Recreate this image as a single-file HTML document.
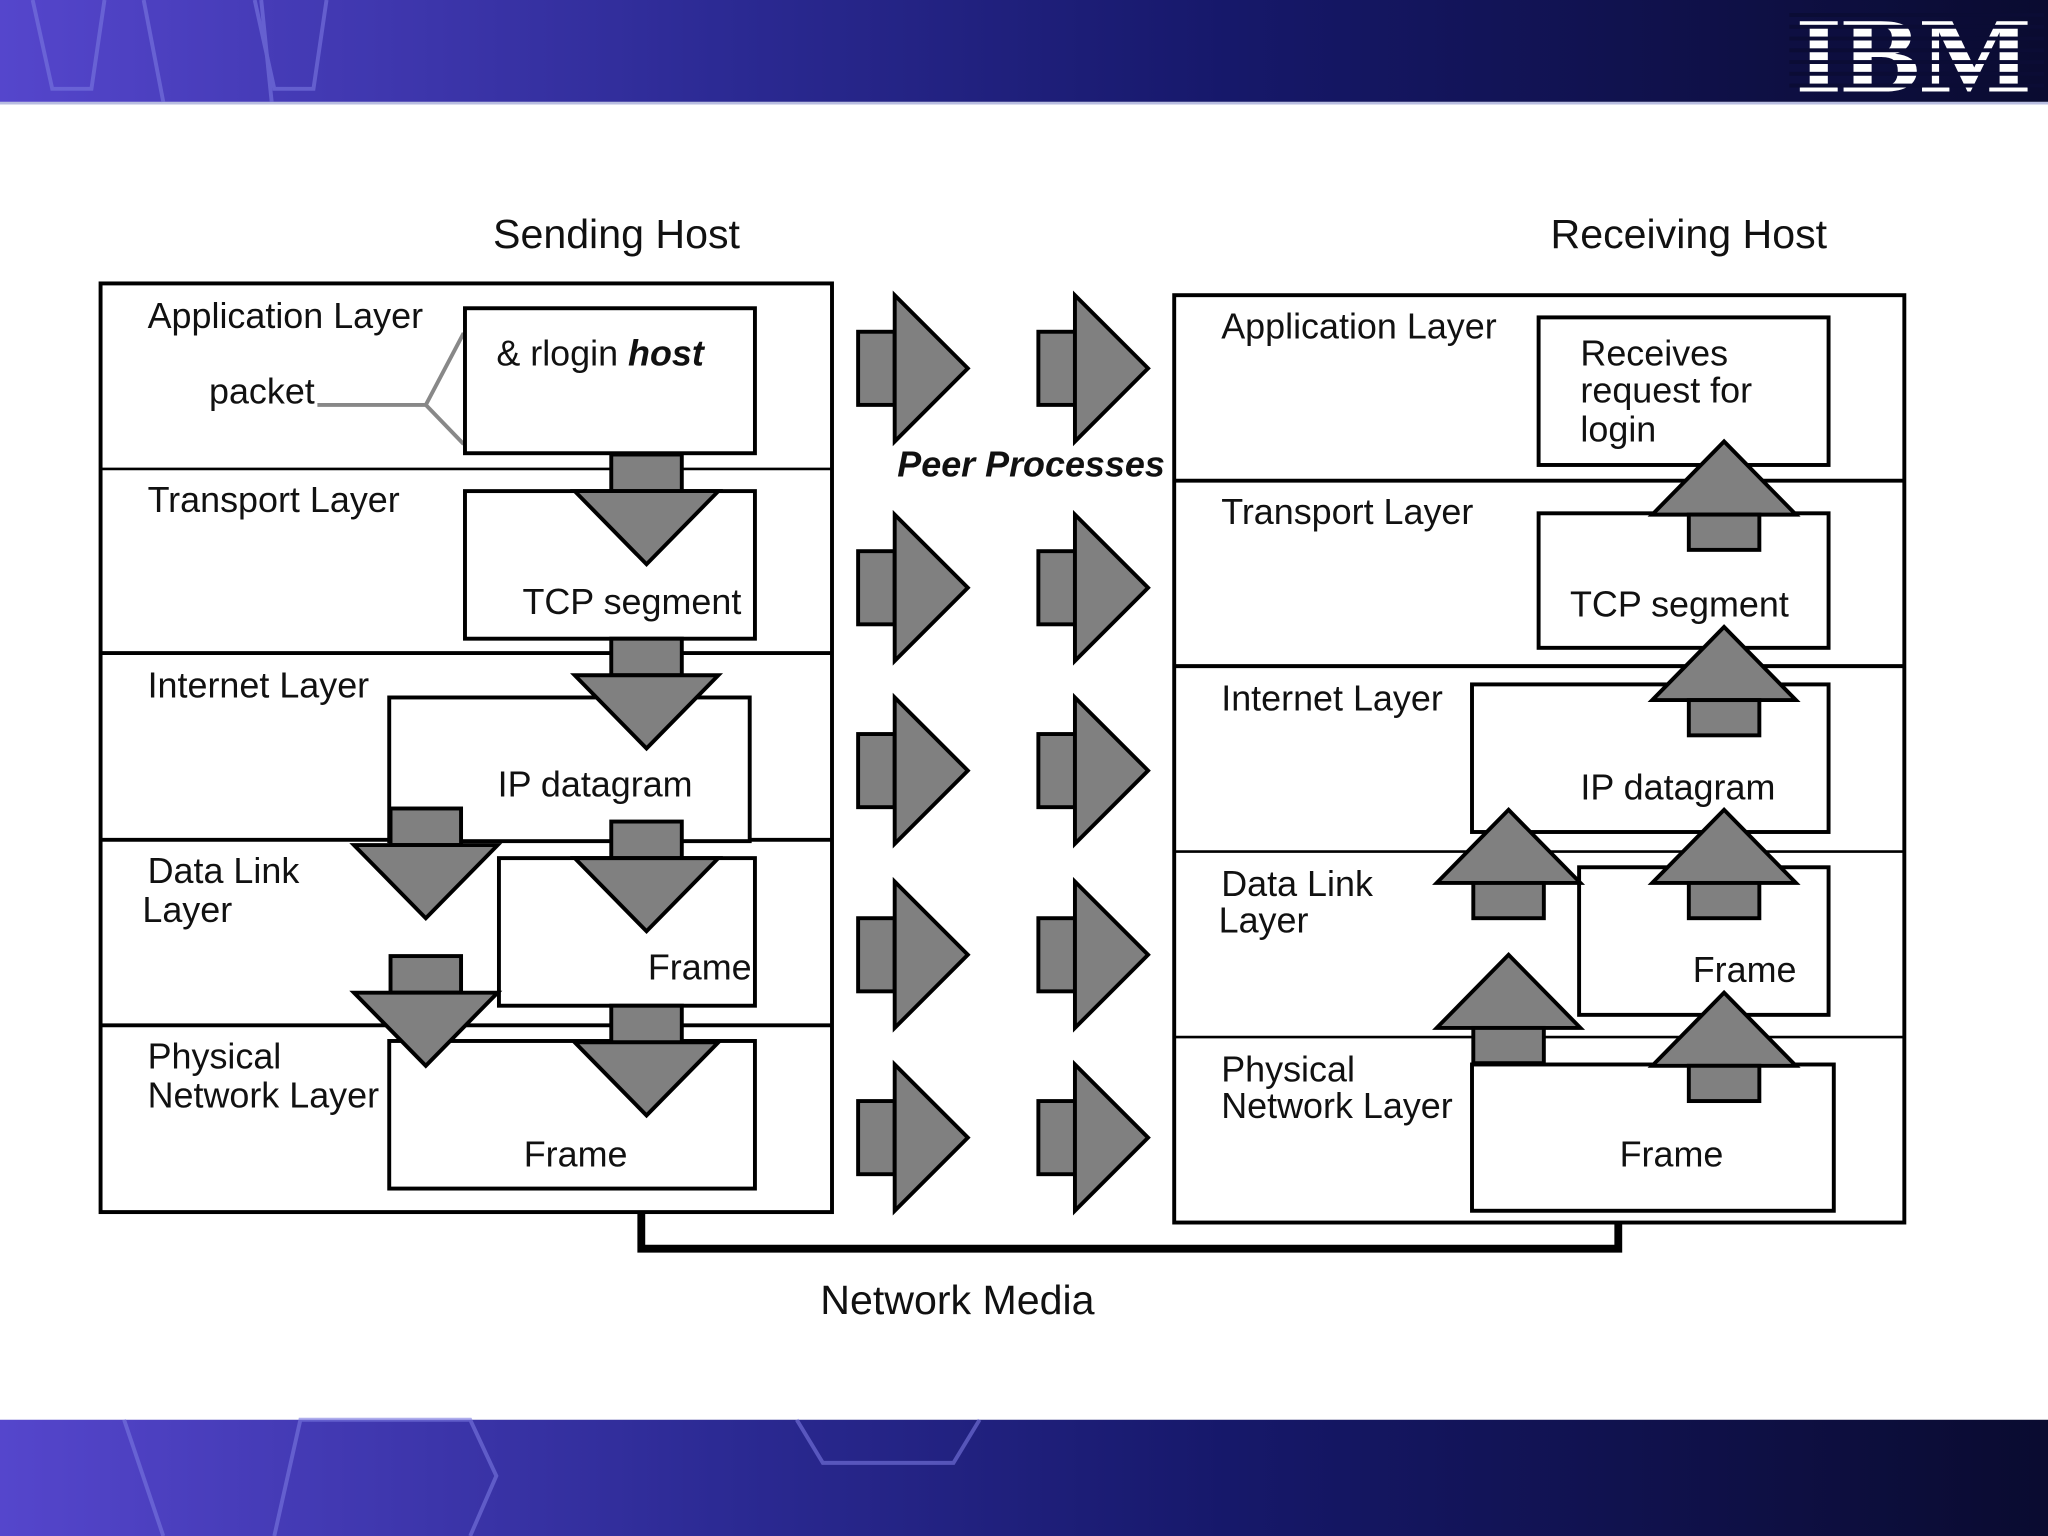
<!DOCTYPE html>
<html><head><meta charset="utf-8"><style>
html,body{margin:0;padding:0;background:#fff}
svg{display:block}
text{font-family:"Liberation Sans",Arial,sans-serif;fill:#111}
</style></head><body>
<svg width="2048" height="1536" viewBox="0 0 1568 1176" xmlns="http://www.w3.org/2000/svg">
<defs>
<linearGradient id="g" x1="0" x2="1" y1="0" y2="0">
<stop offset="0" stop-color="#5546cc"/><stop offset="0.35" stop-color="#2c2a94"/><stop offset="0.6" stop-color="#16186a"/><stop offset="1" stop-color="#0a0b30"/>
</linearGradient>
<g id="ra"><rect x="0" y="-28" width="28" height="56" fill="#808080" stroke="#000" stroke-width="3"/><polygon points="28,-56 28,56 84,0" fill="#808080" stroke="#000" stroke-width="3"/></g>
<g id="da"><rect x="-27" y="0" width="54" height="28" fill="#808080" stroke="#000" stroke-width="3"/><polygon points="-55,28 55,28 0,84" fill="#808080" stroke="#000" stroke-width="3"/></g>
<g id="ua"><polygon points="-55,56 55,56 0,0" fill="#808080" stroke="#000" stroke-width="3"/><rect x="-27" y="56" width="54" height="27" fill="#808080" stroke="#000" stroke-width="3"/></g>
</defs>
<rect x="0" y="0" width="1568" height="78" fill="url(#g)"/>
<rect x="0" y="78" width="1568" height="2" fill="#b8bde0"/>
<g stroke="#7a78e0" stroke-width="3" fill="none" opacity="0.6">
<polyline points="25,0 40,68 70,68 80,0"/><polyline points="110,0 125,78"/><polyline points="200,0 208,78"/><polyline points="195,0 210,68 240,68 250,0"/>
</g>
<rect x="0" y="1087" width="1568" height="89" fill="url(#g)"/>
<g stroke="#7a78e0" stroke-width="3" fill="none" opacity="0.6">
<polyline points="95,1087 125,1176"/><polyline points="210,1176 230,1087 360,1087 380,1130 360,1176"/><polyline points="610,1087 630,1120 730,1120 750,1087"/>
</g>
<text x="1375" y="70" style="font-family:'Liberation Serif',serif;font-weight:bold;font-size:82px;fill:#fff" textLength="180" lengthAdjust="spacingAndGlyphs">IBM</text>
<g><rect x="1370" y="10" width="195" height="3" fill="#0b0c35"/><rect x="1370" y="19" width="195" height="3" fill="#0b0c35"/><rect x="1370" y="28" width="195" height="3" fill="#0b0c35"/><rect x="1370" y="37" width="195" height="3" fill="#0b0c35"/><rect x="1370" y="46" width="195" height="3" fill="#0b0c35"/><rect x="1370" y="55" width="195" height="3" fill="#0b0c35"/><rect x="1370" y="64" width="195" height="3" fill="#0b0c35"/></g>

<text x="472" y="190" font-size="31.5" text-anchor="middle">Sending Host</text>
<text x="1293" y="190" font-size="31.5" text-anchor="middle">Receiving Host</text>

<polyline points="491,928 491,956 1239,956 1239,936" fill="none" stroke="#000" stroke-width="6"/>
<text x="733" y="1006" font-size="31.5" text-anchor="middle">Network Media</text>

<rect x="77" y="217" width="560" height="711" fill="#fff" stroke="#000" stroke-width="3"/>
<g stroke="#000"><line x1="77" y1="359" x2="637" y2="359" stroke-width="2"/><line x1="77" y1="500" x2="637" y2="500" stroke-width="3"/><line x1="77" y1="643" x2="637" y2="643" stroke-width="3"/><line x1="77" y1="785" x2="637" y2="785" stroke-width="3"/></g>
<g font-size="27.5">
<text x="113" y="251">Application Layer</text>
<text x="160" y="309">packet</text>
<text x="113" y="392">Transport Layer</text>
<text x="113" y="534">Internet Layer</text>
<text x="113" y="676">Data Link</text><text x="109" y="706">Layer</text>
<text x="113" y="818">Physical</text><text x="113" y="848">Network Layer</text>
</g>
<polyline points="243,310 326,310 355,255" fill="none" stroke="#888" stroke-width="3"/><line x1="326" y1="310" x2="355" y2="340" stroke="#888" stroke-width="3"/>
<g fill="#fff" stroke="#000" stroke-width="3">
<rect x="356" y="236" width="222" height="111"/>
<rect x="356" y="376" width="222" height="113"/>
<rect x="298" y="534" width="276" height="110"/>
<rect x="382" y="657" width="196" height="113"/>
<rect x="298" y="797" width="280" height="113"/>
</g>
<use href="#da" x="495" y="348"/>
<use href="#da" x="495" y="489"/>
<use href="#da" x="495" y="629"/>
<use href="#da" x="495" y="770"/>
<use href="#da" x="326" y="619"/>
<use href="#da" x="326" y="732"/>
<g font-size="27.5">
<text x="380" y="280">&amp; rlogin <tspan font-weight="bold" font-style="italic">host</tspan></text>
<text x="400" y="470">TCP segment</text>
<text x="381" y="610">IP datagram</text>
<text x="496" y="750">Frame</text>
<text x="401" y="893">Frame</text>
</g>

<g>
<use href="#ra" x="657" y="282"/><use href="#ra" x="795" y="282"/>
<use href="#ra" x="657" y="450"/><use href="#ra" x="795" y="450"/>
<use href="#ra" x="657" y="590"/><use href="#ra" x="795" y="590"/>
<use href="#ra" x="657" y="731"/><use href="#ra" x="795" y="731"/>
<use href="#ra" x="657" y="871"/><use href="#ra" x="795" y="871"/>
</g>
<text x="687" y="365" font-size="27.5" font-weight="bold" font-style="italic">Peer Processes</text>

<rect x="899" y="226" width="559" height="710" fill="#fff" stroke="#000" stroke-width="3"/>
<g stroke="#000"><line x1="899" y1="368" x2="1458" y2="368" stroke-width="3"/><line x1="899" y1="510" x2="1458" y2="510" stroke-width="3"/><line x1="899" y1="652" x2="1458" y2="652" stroke-width="2"/><line x1="899" y1="794" x2="1458" y2="794" stroke-width="2"/></g>
<g font-size="27.5">
<text x="935" y="259">Application Layer</text>
<text x="935" y="401">Transport Layer</text>
<text x="935" y="544">Internet Layer</text>
<text x="935" y="686">Data Link</text><text x="933" y="714">Layer</text>
<text x="935" y="828">Physical</text><text x="935" y="856">Network Layer</text>
</g>
<g fill="#fff" stroke="#000" stroke-width="3">
<rect x="1178" y="243" width="222" height="113"/>
<rect x="1178" y="393" width="222" height="103"/>
<rect x="1127" y="524" width="273" height="113"/>
<rect x="1209" y="664" width="191" height="113"/>
<rect x="1127" y="815" width="277" height="112"/>
</g>
<use href="#ua" x="1320" y="338"/>
<use href="#ua" x="1320" y="480"/>
<use href="#ua" x="1320" y="620"/>
<use href="#ua" x="1320" y="760"/>
<use href="#ua" x="1155" y="620"/>
<use href="#ua" x="1155" y="731"/>
<g font-size="27.5">
<text x="1210" y="280">Receives</text><text x="1210" y="308">request for</text><text x="1210" y="338">login</text>
<text x="1202" y="472">TCP segment</text>
<text x="1210" y="612">IP datagram</text>
<text x="1296" y="752">Frame</text>
<text x="1240" y="893">Frame</text>
</g>
</svg>
</body></html>
